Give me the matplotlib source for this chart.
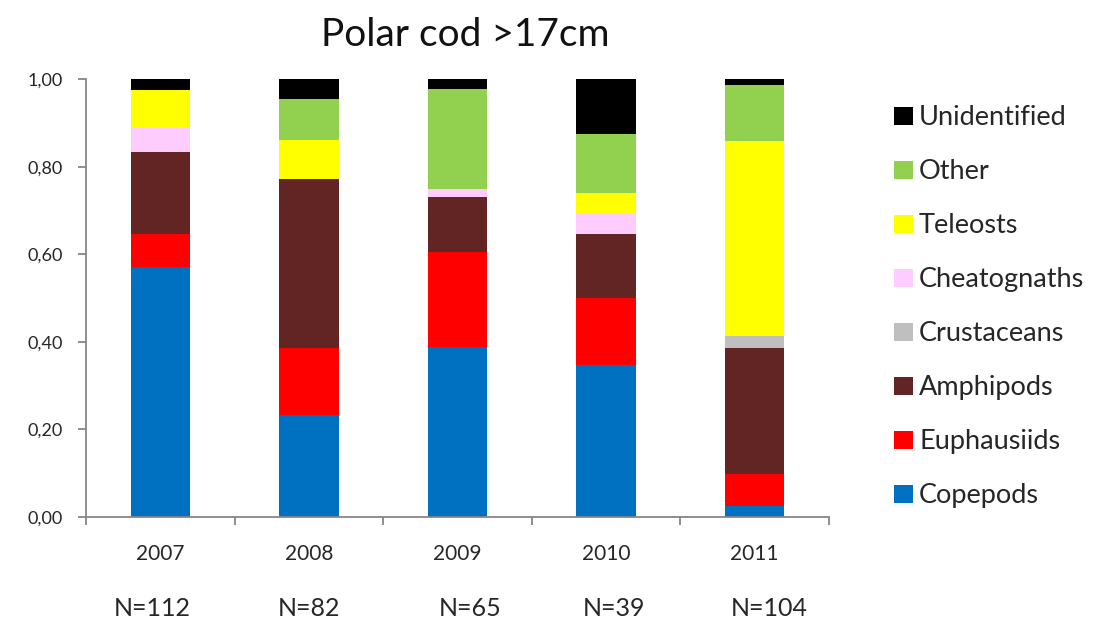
import matplotlib
matplotlib.use("Agg")
import matplotlib.pyplot as plt
from matplotlib.patches import Rectangle
from matplotlib.ticker import FuncFormatter, FixedLocator
from matplotlib.transforms import blended_transform_factory
import numpy as np

plt.rcParams['font.family'] = ['Lato', 'DejaVu Sans']

years = ["2007", "2008", "2009", "2010", "2011"]
sample_sizes = ["N=112", "N=82", "N=65", "N=39", "N=104"]

# Proportion of diet per prey group, stacked bottom to top
copepods     = [0.572, 0.232, 0.389, 0.347, 0.025]
euphausiids  = [0.074, 0.153, 0.217, 0.154, 0.073]
amphipods    = [0.188, 0.386, 0.126, 0.145, 0.287]
crustaceans  = [0.000, 0.000, 0.000, 0.000, 0.027]
cheatognaths = [0.054, 0.000, 0.017, 0.049, 0.000]
teleosts     = [0.087, 0.090, 0.000, 0.044, 0.448]
other        = [0.000, 0.093, 0.228, 0.135, 0.127]
unidentified = [0.025, 0.046, 0.023, 0.126, 0.013]

groups = ["Copepods", "Euphausiids", "Amphipods", "Crustaceans",
          "Cheatognaths", "Teleosts", "Other", "Unidentified"]
series = [copepods, euphausiids, amphipods, crustaceans,
          cheatognaths, teleosts, other, unidentified]
colors = ["#0070C0", "#FF0000", "#632523", "#BFBFBF",
          "#FFCCFF", "#FFFF00", "#92D050", "#000000"]

W, H = 1104, 621
fig = plt.figure(figsize=(W / 100, H / 100), dpi=100)
ax = fig.add_axes([86 / W, 1 - 516.7 / H, (829 - 86) / W, (516.7 - 79.3) / H])

x = np.arange(len(years))
bottom = np.zeros(len(years))
for vals, col, name in zip(series, colors, groups):
    ax.bar(x, vals, width=0.4, bottom=bottom, color=col, label=name, zorder=2)
    bottom += np.array(vals)

ax.set_xlim(-0.5, len(years) - 0.5)
ax.set_ylim(0, 1.0)

axis_grey = "#868686"
text_col = "#262626"
for s in ["top", "right"]:
    ax.spines[s].set_visible(False)
for s in ["left", "bottom"]:
    ax.spines[s].set_color(axis_grey)
    ax.spines[s].set_linewidth(1.3)

ax.set_yticks(np.arange(0, 1.01, 0.2))
ax.yaxis.set_major_formatter(FuncFormatter(lambda v, p: f"{v:.2f}".replace(".", ",")))
ax.tick_params(axis="y", direction="out", length=5.8, width=1.3, color=axis_grey,
               labelsize=13, labelcolor=text_col, pad=11)

# Category boundaries carry the x ticks; year labels sit under each bar
ax.set_xticks(x)
ax.set_xticklabels([])
ax.tick_params(axis="x", which="major", length=0)
ax.xaxis.set_minor_locator(FixedLocator(np.arange(-0.5, len(years), 1.0)))
ax.tick_params(axis="x", which="minor", direction="out", length=6, width=1.3,
               color=axis_grey)

tr = blended_transform_factory(ax.transData, fig.transFigure)
for xi, lab in zip(x, years):
    ax.text(xi, 1 - 560 / H, lab, transform=tr, ha="center", va="baseline",
            fontsize=15, color=text_col)

n_offsets = [-0.054, 0.0, 0.083, 0.05, 0.10]
for xi, lab, off in zip(x, sample_sizes, n_offsets):
    ax.text(xi + off, 1 - 616 / H, lab, transform=tr, ha="center", va="baseline",
            fontsize=18, color=text_col)

fig.text(465 / W, 1 - 46 / H, "Polar cod >17cm", ha="center", va="baseline",
         fontsize=28, color="#111111")

# Legend, top entry = last stacked group
row_y0, row_dy = 116, 54
for i, (name, col) in enumerate(zip(groups[::-1], colors[::-1])):
    yc = row_y0 + i * row_dy
    fig.patches.append(Rectangle((894 / W, 1 - (yc + 9) / H), 19 / W, 18 / H,
                                 transform=fig.transFigure, facecolor=col,
                                 edgecolor="none"))
    fig.text(919 / W, 1 - (yc + 9) / H, name, ha="left", va="baseline",
             fontsize=19.5, color=text_col)

fig.savefig("out.png", dpi=100, facecolor="white")
